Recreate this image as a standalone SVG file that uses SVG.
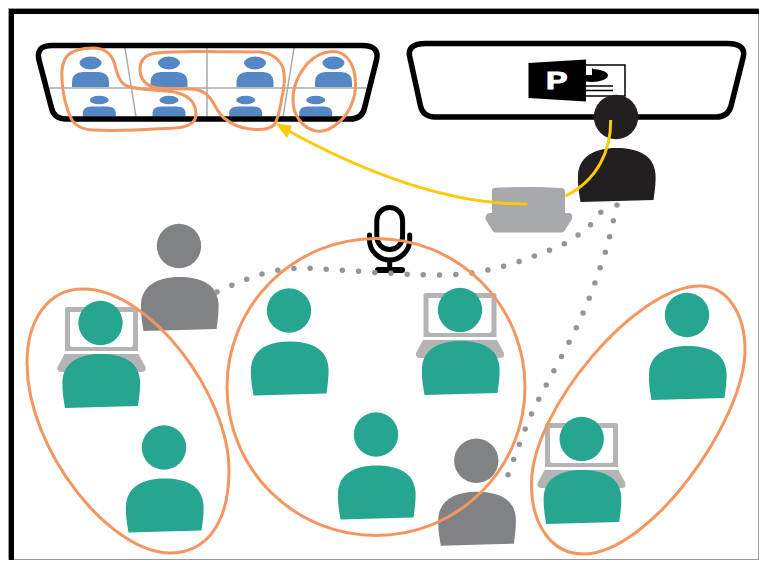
<svg xmlns="http://www.w3.org/2000/svg" width="759" height="561" viewBox="0 0 759 561">
<style>
.teal{fill:#26a690}.grey{fill:#808285}.dark{fill:#231f20}
.blue{fill:#5587c5}
.blob{fill:none;stroke:#f4965f;stroke-width:3}
.grid{stroke:#a7a9ac;stroke-width:1.500;fill:none}
.scr{fill:none;stroke:#000;stroke-width:5.500}
.dots{fill:none;stroke:#939598;stroke-width:5.500;stroke-linecap:round;stroke-dasharray:0 16.200}
.yl{fill:none;stroke:#ffc907;stroke-width:3}
.lap{fill:#b4b4b5}
</style>
<defs>
<g id="person"><circle r="22.200"/><path d="M-35.500,85C-37,76-38.500,68-38,58C-37,40-22,31 0,31C22,31 38,38 39.500,57C40,66 38.500,76 37.500,83Z"/></g>
<g id="laptop"><path class="lap" fill-rule="evenodd" d="M-36.500,44V2Q-36.500,0-34,0H34Q36.500,0 36.500,2V44ZM-31.500,5V38Q-31.500,40-29,40H29Q31.500,40 31.500,38V5Z"/><path class="lap" d="M-37,47H37L44,60Q45,65 40,65H-40Q-45,65-44,60Z"/></g>
<g id="vhi"><ellipse cy="-24" rx="11" ry="6.500"/><path d="M-18.500,0V-5Q-18,-15-8,-15H8Q18,-15 18.500,-5V0Z"/></g>
<g id="vlo"><ellipse cy="-16.500" rx="9.500" ry="4.300"/><path d="M-16.500,0V-4Q-16,-10-8,-10H8Q16,-10 16.500,-4V0Z"/></g>
</defs>
<g id="frame">
<path d="M8.500,8.500H758.500V559.500H8.500Z" fill="#fff" stroke="#999" stroke-width="1"/>
<path d="M9,9H759V14H14V560H9Z" fill="#000"/>
</g>
<g id="video-wall">
<path class="grid" d="M49,88H367M125,48L136,117M207,48V117M294,48L283,117"/>
<g class="blue">
<use href="#vhi" x="90.500" y="87"/><use href="#vhi" x="169" y="87"/><use href="#vhi" x="255" y="87"/><use href="#vhi" x="333.500" y="87"/>
<use href="#vlo" x="99.300" y="116.500"/><use href="#vlo" x="169" y="116.500"/><use href="#vlo" x="245.700" y="116.500"/><use href="#vlo" x="315.700" y="116.500"/>
</g>
<path class="scr" d="M52,45.500H362Q380,45.500 376.500,60L364.500,108Q362,119 350,119H66Q54,119 51.500,108L39,60Q35.500,45.500 52,45.500Z"/>
</g>
<g id="slide-screen">
<path class="scr" d="M426,43.500H727Q747,43.500 743,58L731,106Q728,117 716,117H435Q423,117 420.500,106L410,58Q406,43.500 426,43.500Z"/>
<rect x="584" y="65" width="41" height="31" fill="#fff" stroke="#000" stroke-width="1.500"/>
<ellipse cx="592" cy="75.500" rx="16" ry="6.500"/>
<path d="M586,68H592.500V75H586Z" fill="#fff"/>
<path d="M592.500,68.500V75H599" fill="none" stroke="#000" stroke-width="1"/>
<path d="M586,86H613M586,90.500H613" stroke="#000" stroke-width="1.300"/>
<path d="M528.500,63L586,59.500V101.500L528.500,98Z"/>
<text x="546" y="89" font-family="Liberation Sans, sans-serif" font-weight="700" font-size="24" fill="#fff" stroke="#fff" stroke-width="1" textLength="21.500" lengthAdjust="spacingAndGlyphs">P</text>
</g>
<g id="presenter" class="dark"><use href="#person" x="616" y="117"/></g>
<g id="presenter-laptop"><path d="M494,188Q530,186 562,188Q565,188 565,192V213H570Q573,214 572,219L565,230Q564,232.500 561,232.500H496Q493,232.500 492,230L486,220Q484,214 490,213H492V191Q492,188 494,188Z" fill="#a7a9ac"/></g>
<g id="p1"><use href="#laptop" x="101.500" y="307"/><use href="#person" class="teal" x="100.500" y="323"/></g>
<g id="p2"><use href="#person" class="teal" x="164" y="447.500"/></g>
<g id="p3"><use href="#person" class="teal" x="289" y="310.500"/></g>
<g id="p4"><use href="#laptop" x="460" y="293"/><use href="#person" class="teal" x="460" y="310"/></g>
<g id="p5"><use href="#person" class="teal" x="376" y="434.500"/></g>
<g id="p6"><use href="#laptop" x="581.500" y="423"/><use href="#person" class="teal" x="581.700" y="439"/></g>
<g id="p7"><use href="#person" class="teal" x="687" y="315"/></g>
<g id="g1"><use href="#person" class="grey" x="179" y="246"/></g>
<g id="g2"><use href="#person" class="grey" x="476.300" y="460.700"/></g>
<g id="mic" fill="none" stroke="#000" stroke-linecap="round">
<rect x="376.800" y="207.500" width="25.800" height="42" rx="12.900" stroke-width="5"/>
<path d="M369.500,235V240C369.500,251 379,260 389.700,260C400,260 409.700,251 409.700,240V235M389.700,260V270" stroke-width="5"/>
<path d="M378,270H402" stroke-width="6"/>
</g>
<g id="connectors">
<path class="dots" d="M217,292C245,279 270,268 305,268C350,270 395,275 443,275C490,275 530,258 560,246C580,236 596,222 604,207"/>
<path class="dots" d="M617,205C613,222 610,236 606,250C598,275 590,298 580,320C565,352 548,380 532,413C520,440 512,465 503,488"/>
<path class="yl" d="M527.500,204C440,205 350,165 283,128"/>
<path d="M275,122.700L292,126L287,138Z" fill="#ffc907"/>
<path class="yl" d="M610.700,120C611,150 598,180 565.500,196"/>
<path class="blob" d="M93,48C104,48 111,54 114,62C117,72 118,80 125,85C132,89 150,90 167,91C178,92 188,95 193,103C197,110 197,118 193,122C188,127 180,128 165,128.500C140,130 110,131 93,130C80,129 74,125 71,118C66,108 63,95 62,80C61,68 63,60 68,55C75,49 85,48 93,48Z"/>
<path class="blob" d="M140,70C140,60 146,54 157,53C175,51 190,51.500 207,51.500C225,52 245,51.500 260,52C272,53 280,60 283,68C286,78 284,88 282,97C280,108 279,118 274,125C268,130 258,130 250,129C240,128 230,123 224,118C216,112 214,100 207,95C202,90 197,89 190,89C178,88.500 168,89 157,88C148,87 140,80 140,70Z"/>
<path class="blob" d="M333,51.500C347,51.500 355,65 355.500,83C356,100 348,115 338,123C330,130 322,132 316,131C302,128 293,115 293,100C293,85 300,72 308,63C316,55 325,51.500 333,51.500Z"/>
<path class="blob" d="M83,289C150,289 229,395 229,470C229,525 205,553 170,553C110,553 27,450 27,363C27,320 48,289 83,289Z"/>
<ellipse class="blob" cx="376" cy="387" rx="149" ry="148.500"/>
<path class="blob" d="M700,286C728,286 745,315 745,350C745,420 650,554 583,554C552,554 531,525 531.500,483C532,410 635,286 700,286Z"/>
</g>
</svg>
